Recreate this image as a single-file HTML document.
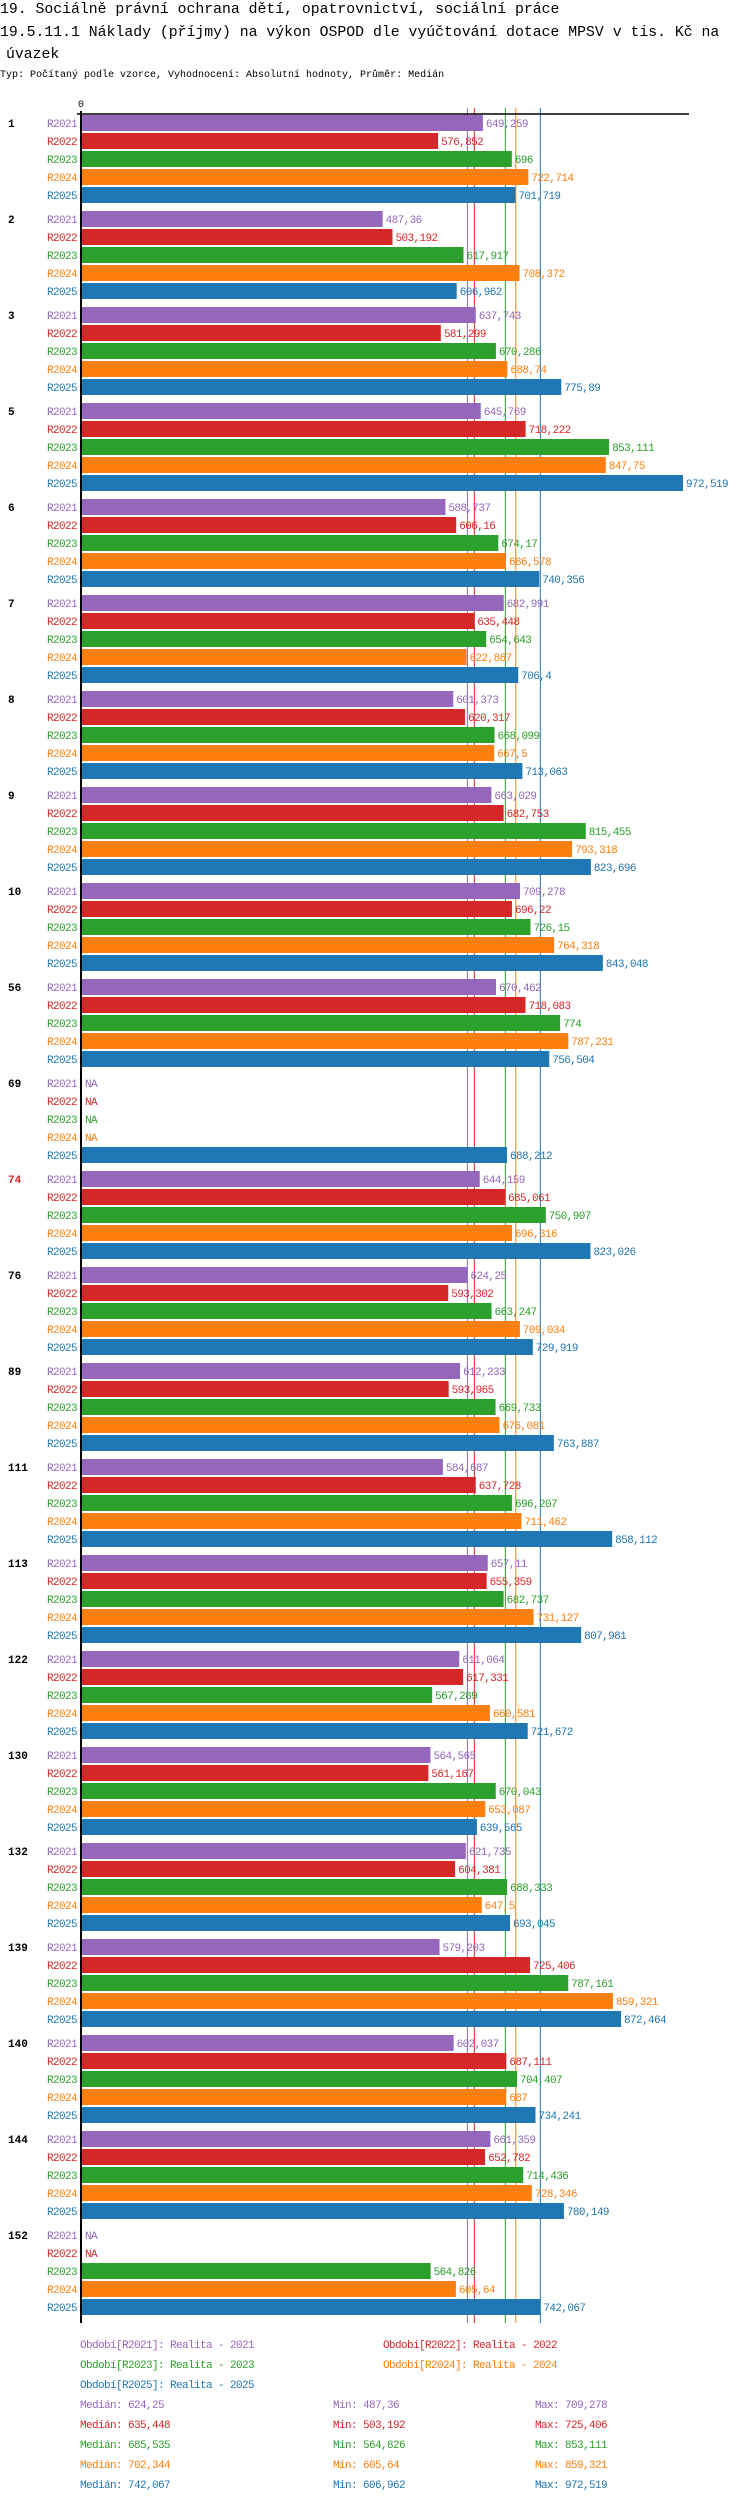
<!DOCTYPE html>
<html><head><meta charset="utf-8">
<style>
html,body{margin:0;padding:0;background:#fff;width:750px;height:2502px;overflow:hidden}
svg{display:block;font-family:"Liberation Mono","DejaVu Sans Mono",monospace}
</style></head>
<body>
<svg id="chart" width="750" height="2502" viewBox="0 0 750 2502" xmlns="http://www.w3.org/2000/svg">
<text x="0" y="13" font-size="14.8">19. Sociálně právní ochrana dětí, opatrovnictví, sociální práce</text>
<text x="0" y="36" font-size="14.8">19.5.11.1 Náklady (příjmy) na výkon OSPOD dle vyúčtování dotace MPSV v tis. Kč na</text>
<text x="6" y="58" font-size="14.8">úvazek</text>
<text x="0" y="77" font-size="10" letter-spacing="0">Typ: Počítaný podle vzorce, Vyhodnocení: Absolutní hodnoty, Průměr: Medián</text>
<text x="81" y="107" font-size="10" text-anchor="middle">0</text>
<g id="medlines"></g>
<g id="marks"></g>
<line x1="77" y1="114" x2="689" y2="114" stroke="#000" stroke-width="1.5"/>
<line x1="81" y1="111" x2="81" y2="2323" stroke="#000" stroke-width="2"/>
<g id="legend"></g>
</svg>
<script>
const groups = ["1","2","3","5","6","7","8","9","10","56","69","74","76","89","111","113","122","130","132","139","140","144","152"];
const periods = ["R2021","R2022","R2023","R2024","R2025"];
const r2021 = [649.259,487.36,637.743,645.769,588.737,682.991,601.373,663.029,709.278,670.462,null,644.159,624.25,612.233,584.687,657.11,611.064,564.565,621.735,579.203,602.037,661.359,null];
const r2022 = [576.852,503.192,581.299,718.222,606.16,635.448,620.317,682.753,696.22,718.083,null,685.061,593.302,593.965,637.728,655.359,617.331,561.167,604.381,725.406,687.111,652.782,null];
const r2023 = [696,617.917,670.286,853.111,674.17,654.643,668.099,815.455,726.15,774,null,750.907,663.247,669.733,696.207,682.737,567.289,670.043,688.333,787.161,704.407,714.436,564.826];
const r2024 = [722.714,708.372,688.74,847.75,686.578,622.867,667.5,793.318,764.318,787.231,null,696.316,709.034,676.081,711.462,731.127,660.581,653.087,647.5,859.321,687,728.346,605.64];
const r2025 = [701.719,606.962,775.89,972.519,740.356,706.4,713.063,823.696,843.048,756.504,688.212,823.026,729.919,763.887,858.112,807.981,721.672,639.565,693.045,872.464,734.241,780.149,742.067];
const medians = [624.25,635.448,685.535,702.344,742.067];
const mins = [487.36,503.192,564.826,605.64,606.962];
const maxs = [709.278,725.406,853.111,859.321,972.519];
const legendNames = ["Období[R2021]: Realita - 2021","Období[R2022]: Realita - 2022","Období[R2023]: Realita - 2023","Období[R2024]: Realita - 2024","Období[R2025]: Realita - 2025"];
const highlightGroup = "74";

const series = [r2021,r2022,r2023,r2024,r2025];
const colors = ["#9467bd","#d62728","#2ca02c","#ff7f0e","#1f77b4"];
const NS = "http://www.w3.org/2000/svg";
const X0 = 81, PXU = 0.619, TOP = 115, GP = 96, BP = 18, BH = 16;
const xs = v => X0 + v * PXU;
const fmt = v => String(v).replace('.', ',');
function mk(tag, attrs, parent, txt){
  const e = document.createElementNS(NS, tag);
  for (const k in attrs) e.setAttribute(k, attrs[k]);
  if (txt !== undefined) e.textContent = txt;
  parent.appendChild(e); return e;
}
const medg = document.getElementById('medlines');
medians.forEach((m, i) => {
  const l = mk('line', {x1: xs(m), x2: xs(m), y1: 108, y2: 2323, stroke: colors[i], 'stroke-width': 1}, medg);
  
  
});
const marks = document.getElementById('marks');
groups.forEach((g, gi) => {
  const gy = TOP + gi * GP;
  const gl = mk('text', {x: 8, y: gy + BH/2 + 4, 'font-size': 11, 'font-weight': 'bold', fill: g === highlightGroup ? '#d62728' : '#000'}, marks, g);
  
  
  series.forEach((s, si) => {
    const y = gy + si * BP;
    const v = s[gi];
    const pl = mk('text', {x: 77, y: y + BH/2 + 4, 'font-size': 11, 'letter-spacing': -0.6, 'text-anchor': 'end', fill: colors[si]}, marks, periods[si]);
    
    
    if (v === null) {
      const na = mk('text', {x: 85, y: y + BH/2 + 4, 'font-size': 11, 'letter-spacing': -0.6, fill: colors[si]}, marks, 'NA');
      
      
      return;
    }
    const r = mk('rect', {x: X0, y: y, width: xs(v) - X0, height: BH, fill: colors[si]}, marks);
    
    
    const t = mk('text', {x: xs(v) + 3, y: y + BH/2 + 4, 'font-size': 11, 'letter-spacing': -0.6, fill: colors[si]}, marks, fmt(v));
    
    
  });
});
const leg = document.getElementById('legend');
const lpos = [[80,2348],[383,2348],[80,2368],[383,2368],[80,2388]];
legendNames.forEach((n, i) => {
  const t = mk('text', {x: lpos[i][0], y: lpos[i][1], 'font-size': 11, 'letter-spacing': -0.6, fill: colors[i]}, leg, n);
  
  
});
medians.forEach((m, i) => {
  const y = 2408 + i * 20;
  const a = mk('text', {x: 80, y: y, 'font-size': 11, 'letter-spacing': -0.6, fill: colors[i]}, leg, 'Medián: ' + fmt(m));
  
  
  const b = mk('text', {x: 333, y: y, 'font-size': 11, 'letter-spacing': -0.6, fill: colors[i]}, leg, 'Min: ' + fmt(mins[i]));
  
  
  const c = mk('text', {x: 535, y: y, 'font-size': 11, 'letter-spacing': -0.6, fill: colors[i]}, leg, 'Max: ' + fmt(maxs[i]));
  
  
});
</script>
</body></html>
